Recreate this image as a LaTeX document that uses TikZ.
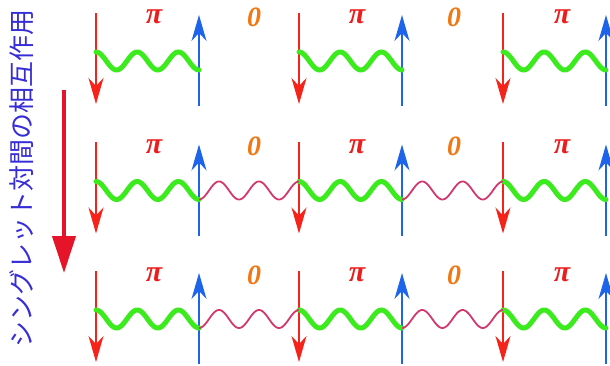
\documentclass[tikz,border=0pt]{standalone}
\usepackage{fontspec}
\newfontfamily\jpfont{Noto Sans CJK JP}
\newfontfamily\lserif{Liberation Serif}
\usetikzlibrary{arrows.meta}
\definecolor{spinred}{RGB}{245,35,25}
\definecolor{spinblue}{RGB}{30,100,235}
\definecolor{bondgreen}{RGB}{60,235,30}
\definecolor{bondpink}{RGB}{210,55,110}
\definecolor{pired}{RGB}{235,30,30}
\definecolor{zeroorange}{RGB}{240,120,20}
\definecolor{jpblue}{RGB}{55,45,215}
\definecolor{bigred}{RGB}{230,20,40}
\tikzset{
  downspin/.style={draw=spinred, line width=1.4pt, -{Stealth[length=26pt,width=15pt,inset=8pt]}},
  upspin/.style={draw=spinblue, line width=1.4pt, -{Stealth[length=26pt,width=15pt,inset=8pt]}},
  strongbond/.style={draw=bondgreen, line width=5pt, line cap=round},
  weakbond/.style={draw=bondpink, line width=1.8pt},
  pilabel/.style={text=pired, font=\lserif\itshape\fontsize{30}{30}\selectfont, inner sep=0pt},
  zerolabel/.style={text=zeroorange, font=\lserif\bfseries\itshape\fontsize{28}{28}\selectfont, inner sep=0pt},
  jptext/.style={text=jpblue, font=\jpfont\fontsize{26}{26}\selectfont, rotate=90, inner sep=0pt},
  timearrow/.style={draw=bigred, line width=4pt, -{Triangle[length=37pt,width=23pt]}}
}
\begin{document}
\begin{tikzpicture}[x=1pt,y=-1pt]
\useasboundingbox (0,0) rectangle (610,366);
% vertical caption
\node[jptext] (caption) at (22,178) {シングレット対間の相互作用};
% time arrow
\coordinate (tatop) at (64,90);
\coordinate (tabot) at (64,273);
\draw[timearrow] (tatop) -- (tabot);
\foreach \r/\dy in {1/0,2/129.5,3/258}{
  \foreach \c/\xr/\xb/\xp in {1/96/199/154, 2/299/402/357, 3/503/606/562}{
    \coordinate (rt\r\c) at (\xr,13+\dy);
    \coordinate (rb\r\c) at (\xr,104+\dy);
    \coordinate (bb\r\c) at (\xb,106+\dy);
    \coordinate (bt\r\c) at (\xb,15+\dy);
    \draw[downspin] (rt\r\c) -- (rb\r\c);
    \draw[upspin] (bb\r\c) -- (bt\r\c);
    \draw[strongbond] plot[domain=\xr:\xb, samples=120] (\x, {61+\dy-9*cos(900/(\xb-\xr)*(\x-\xr))});
    \node[pilabel] (pi\r\c) at (\xp,17+\dy) {\textbf{π}};
  }
  \foreach \c/\xb/\xr/\xz in {1/199/299/254, 2/402/503/454}{
    \node[zerolabel] (zero\r\c) at (\xz,17+\dy) {0};
  }
}
\foreach \r/\dy in {2/129.5,3/258}{
  \foreach \c/\xb/\xr in {1/199/299, 2/402/503}{
    \draw[weakbond] plot[domain=\xb:\xr, samples=120] (\x, {61+\dy+9*cos(900/(\xr-\xb)*(\x-\xb))});
  }
}
\end{tikzpicture}
\end{document}
